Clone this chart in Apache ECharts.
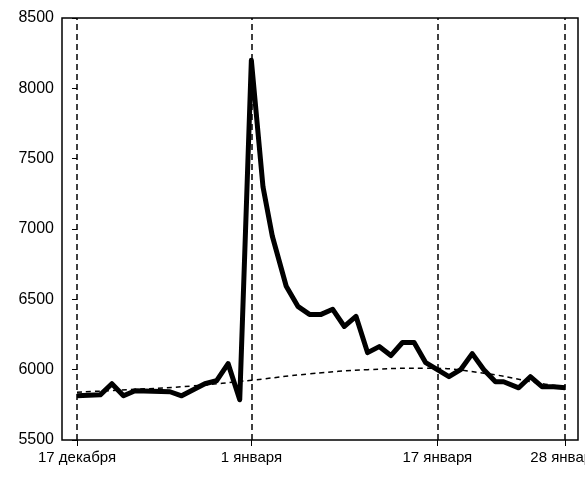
<!DOCTYPE html>
<html><head><meta charset="utf-8">
<script src="https://cdn.jsdelivr.net/npm/echarts@6/dist/echarts.min.js"></script>
<style>html,body{margin:0;padding:0;background:#fff}#c{width:585px;height:481px}</style>
</head><body><div id="c"></div>
<script>
const days = [0,2,3,4,5,8,9,11,12,13,14,15,16,16.8,18,19,20,21,22,23,24,25,26,27,28,29,30,31,32,33,34,35,36,36.7,38,39,40,41,42];
const values = [5814,5821,5900,5814,5850,5843,5814,5900,5921,6043,5786,8200,7300,6950,6593,6450,6393,6393,6429,6307,6379,6121,6164,6100,6193,6193,6050,6000,5950,6000,6114,6000,5914,5914,5871,5950,5879,5879,5871];
const trendDays = [0,5,10,15,20,25,30,35,40,42];
const trendValues = [5840,5860,5885,5925,5970,6000,6010,5975,5900,5880];
const markDays = [0,15,31,42];
const markLabels = ['17 декабря','1 января','17 января','28 января'];

const font = 'Liberation Sans';
const chart = echarts.init(document.getElementById('c'));
chart.setOption({
  animation:false,
  grid:{left:62,top:18,right:7,bottom:41,outerBoundsMode:'none',containLabel:false,show:true,borderColor:'#000',borderWidth:1.5},
  xAxis:{type:'value',min:-1.29,max:43.1,
    axisLine:{show:false},splitLine:{show:false},
    axisTick:{show:true,customValues:markDays,length:6,lineStyle:{color:'#000'}},
    axisLabel:{customValues:markDays,color:'#000',fontFamily:font,fontSize:15,margin:10,hideOverlap:false,
      formatter:v=>markLabels[markDays.indexOf(v)]}},
  yAxis:{type:'value',min:5500,max:8500,interval:500,
    axisLine:{show:false},splitLine:{show:false},
    axisTick:{show:true,length:5,lineStyle:{color:'#000'}},
    axisLabel:{color:'#000',fontFamily:font,fontSize:16,margin:8,formatter:v=>String(v)}},
  series:[
    {type:'line',data:trendDays.map((d,i)=>[d,trendValues[i]]),smooth:true,symbol:'none',
     lineStyle:{color:'#000',width:1.5,type:[5,4]},z:2},
    {type:'line',data:days.map((d,i)=>[d,values[i]]),symbol:'none',
     lineStyle:{color:'#000',width:5,join:'round'},z:3,
     markLine:{silent:true,symbol:'none',label:{show:false},
       lineStyle:{color:'#000',width:1.5,type:[6,4]},
       data:markDays.map(d=>({xAxis:d}))}}
  ]
});
</script></body></html>
